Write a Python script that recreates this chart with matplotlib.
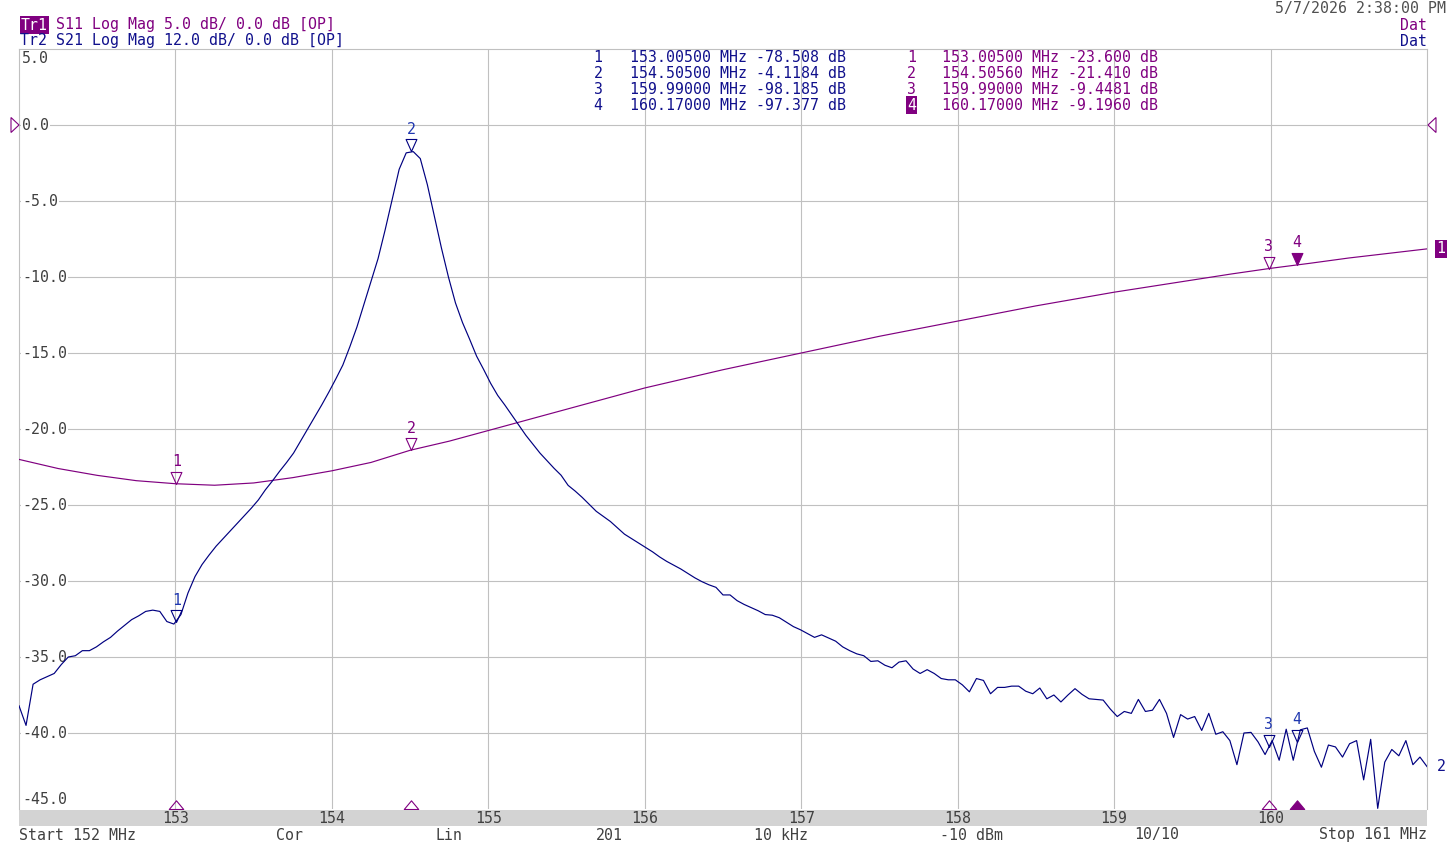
import numpy as np
import matplotlib
matplotlib.use("Agg")
import matplotlib.pyplot as plt
from matplotlib.path import Path
from matplotlib.patches import Polygon

# ---------------- data ----------------
start_mhz, stop_mhz, n_points = 152.0, 161.0, 201

# Tr2: S21 (dB), 12 dB/div, ref 0 dB
s21_db = [
    -91.7, -94.8, -88.3, -87.6, -87.1, -86.6, -85.2, -84.0, -83.8, -83.0,
    -83.0, -82.4, -81.6, -80.9, -79.9, -79.0, -78.1, -77.5, -76.8, -76.6,
    -76.8, -78.4, -78.8, -77.3, -73.9, -71.3, -69.4, -67.9, -66.5, -65.3,
    -64.1, -62.9, -61.7, -60.5, -59.2, -57.6, -56.2, -54.7, -53.3, -51.8,
    -49.9, -48.0, -46.1, -44.2, -42.2, -40.1, -37.9, -35.0, -31.9, -28.3,
    -24.7, -21.1, -16.6, -11.8, -7.0, -4.4, -4.2, -5.3, -9.4, -14.4,
    -19.4, -24.0, -28.1, -31.2, -33.8, -36.5, -38.6, -40.8, -42.7, -44.2,
    -45.8, -47.4, -49.0, -50.4, -51.8, -53.0, -54.2, -55.3, -56.9, -57.8,
    -58.8, -59.9, -61.0, -61.8, -62.6, -63.6, -64.6, -65.3, -66.0, -66.7,
    -67.4, -68.2, -68.9, -69.5, -70.1, -70.8, -71.5, -72.1, -72.6, -73.0,
    -74.2, -74.2, -75.1, -75.7, -76.2, -76.7, -77.3, -77.4, -77.8, -78.5,
    -79.2, -79.7, -80.3, -80.9, -80.5, -81.0, -81.5, -82.4, -83.0, -83.5,
    -83.8, -84.7, -84.6, -85.3, -85.7, -84.8, -84.6, -85.9, -86.6, -86.0,
    -86.6, -87.4, -87.6, -87.6, -88.4, -89.5, -87.4, -87.7, -89.8, -88.8,
    -88.8, -88.6, -88.6, -89.4, -89.8, -88.9, -90.6, -90.0, -91.1, -90.0,
    -89.0, -89.9, -90.6, -90.7, -90.8, -92.2, -93.4, -92.6, -92.9, -90.7,
    -92.6, -92.4, -90.7, -92.9, -96.7, -93.1, -93.8, -93.4, -95.6, -92.9,
    -96.2, -95.8, -97.2, -101.0, -96.0, -95.9, -97.4, -99.4, -97.2, -100.3,
    -95.4, -100.3, -95.5, -95.2, -98.9, -101.4, -97.9, -98.2, -99.8, -97.7,
    -97.2, -103.4, -97.0, -107.9, -100.6, -98.6, -99.6, -97.2, -101.0, -99.8, -101.3,
]

# Tr1: S11 (dB), 5 dB/div, ref 0 dB, read every 0.25 MHz
s11_freq = [152.0, 152.25, 152.5, 152.75, 153.0, 153.25, 153.5, 153.75, 154.0,
            154.25, 154.5, 154.75, 155.0, 155.25, 155.5, 155.75, 156.0, 156.25,
            156.5, 156.75, 157.0, 157.25, 157.5, 157.75, 158.0, 158.25, 158.5,
            158.75, 159.0, 159.25, 159.5, 159.75, 160.0, 160.25, 160.5, 160.75, 161.0]
s11_db = [-22.0, -22.6, -23.05, -23.4, -23.6, -23.7, -23.55, -23.2, -22.75,
          -22.2, -21.4, -20.8, -20.1, -19.4, -18.7, -18.0, -17.3, -16.7,
          -16.1, -15.55, -15.0, -14.45, -13.9, -13.4, -12.9, -12.4, -11.9,
          -11.45, -11.0, -10.6, -10.2, -9.8, -9.43, -9.1, -8.75, -8.45, -8.15]

marker_num = [1, 2, 3, 4]
s21_mk_freq = [153.00500, 154.50500, 159.99000, 160.17000]
s21_mk_db = [-78.508, -4.1184, -98.185, -97.377]
s11_mk_freq = [153.00500, 154.50560, 159.99000, 160.17000]
s11_mk_db = [-23.600, -21.410, -9.4481, -9.1960]
active_marker = 4

tr1_ref, tr1_scale = 0.0, 5.0
tr2_ref, tr2_scale = 0.0, 12.0
n_div_above, n_div_below = 1, 9

x_grid_ticks = [153, 154, 155, 156, 157, 158, 159, 160]
header_tr1 = "S11 Log Mag 5.0 dB/ 0.0 dB [OP]"
header_tr2 = "Tr2 S21 Log Mag 12.0 dB/ 0.0 dB [OP]"
timestamp = "5/7/2026 2:38:00 PM"
bottom_labels = ["Start 152 MHz", "Cor", "Lin", "201", "10 kHz", "-10 dBm", "10/10", "Stop 161 MHz"]

# ---------------- style ----------------
W, H, DPI = 1447, 844, 100
PURPLE = "#800080"
NAVY = "#000080"
NAVY_TXT = "#10108c"
GRAYTXT = "#404040"
GRID = "#c0c0c0"
FS = 10.7
plt.rcParams["font.family"] = ["DejaVu Sans Mono"]
plt.rcParams["font.size"] = FS

fig = plt.figure(figsize=(W / DPI, H / DPI), dpi=DPI)
fig.patch.set_facecolor("white")


def fx(x):
    return x / W


def fy(y):
    return 1 - y / H


L, R, T, B = 19, 1427, 49, 809
ax = fig.add_axes([fx(L), fy(B), (R - L) / W, (B - T) / H])
ax.set_xlim(start_mhz, stop_mhz)
ax.set_ylim(tr1_ref - n_div_below * tr1_scale, tr1_ref + n_div_above * tr1_scale)
ax.set_xticks(x_grid_ticks)
y_lines = [tr1_ref - k * tr1_scale for k in range(0, n_div_below)]
ax.set_yticks(y_lines)
ax.grid(True, color=GRID, lw=0.8)
ax.tick_params(length=0, labelleft=False, labelbottom=False)
for s in ["top", "left", "right"]:
    ax.spines[s].set_color(GRID)
    ax.spines[s].set_linewidth(0.8)
ax.spines["bottom"].set_visible(False)

ax2 = ax.twinx()
ax2.set_ylim(tr2_ref - n_div_below * tr2_scale, tr2_ref + n_div_above * tr2_scale)
ax2.axis("off")

# y labels
y_labels = [tr1_ref + k * tr1_scale for k in range(n_div_above, -n_div_below - 1, -1)]
top_v, bot_v = y_labels[0], y_labels[-1]
for v in y_labels:
    if v == top_v:
        va, dy = "top", -2
    elif v == bot_v:
        va, dy = "bottom", 2
    else:
        va, dy = "center", 0
    ax.annotate(f"{v:.1f}", xy=(0, v), xycoords=ax.get_yaxis_transform(),
                xytext=(3, dy), textcoords="offset pixels", ha="left", va=va,
                color=GRAYTXT, fontsize=FS, annotation_clip=False,
                bbox=dict(boxstyle="square,pad=0.08", fc="white", ec="none"), zorder=3)

# traces
freq = np.linspace(start_mhz, stop_mhz, n_points)
ax.plot(s11_freq, s11_db, color=PURPLE, lw=0.85, zorder=4)
ax2.plot(freq, s21_db, color=NAVY, lw=0.85, zorder=4)

# markers
tri_down = Path([(0, 0), (-0.45, 1), (0.45, 1), (0, 0)],
                [Path.MOVETO, Path.LINETO, Path.LINETO, Path.CLOSEPOLY])
tri_up = Path([(-1, 0), (1, 0), (0, 1.2), (-1, 0)],
              [Path.MOVETO, Path.LINETO, Path.LINETO, Path.CLOSEPOLY])

for n, f, v in zip(marker_num, s21_mk_freq, s21_mk_db):
    ax2.plot([f], [v], marker=tri_down, ms=17.3, mfc="none", mec=NAVY, mew=0.8,
             ls="none", clip_on=False, zorder=6)
    ax2.annotate(str(n), xy=(f, v), xytext=(0, 22), textcoords="offset pixels",
                 ha="center", va="center", color="#2038b0", fontsize=FS, zorder=6)

for n, f, v in zip(marker_num, s11_mk_freq, s11_mk_db):
    filled = (n == active_marker)
    ax.plot([f], [v], marker=tri_down, ms=17.3, mfc=PURPLE if filled else "none",
            mec=PURPLE, mew=0.8, ls="none", clip_on=False, zorder=6)
    ax.annotate(str(n), xy=(f, v), xytext=(0, 22), textcoords="offset pixels",
                ha="center", va="center", color=PURPLE, fontsize=FS, zorder=6)
    ax.plot([f], [0], marker=tri_up, ms=12.5, mfc=PURPLE if filled else "none",
            mec=PURPLE, mew=0.8, ls="none", clip_on=False, zorder=6,
            transform=ax.get_xaxis_transform())

# trace end labels
ax.annotate("1", xy=(stop_mhz, s11_db[-1]), xytext=(14, 0), textcoords="offset pixels",
            ha="center", va="center", color="white", fontsize=FS, annotation_clip=False,
            bbox=dict(boxstyle="square,pad=0.1", fc=PURPLE, ec="none"))
ax2.annotate("2", xy=(stop_mhz, s21_db[-1]), xytext=(14, 0), textcoords="offset pixels",
             ha="center", va="center", color=NAVY_TXT, fontsize=FS, annotation_clip=False)

# reference position triangles
y_ref = 125
fig.patches.append(Polygon([(fx(11), fy(y_ref - 7.5)), (fx(11), fy(y_ref + 7.5)), (fx(19), fy(y_ref))],
                           closed=True, fill=False, ec=PURPLE, lw=0.8, transform=fig.transFigure))
fig.patches.append(Polygon([(fx(1436), fy(y_ref - 7.5)), (fx(1436), fy(y_ref + 7.5)), (fx(1428), fy(y_ref))],
                           closed=True, fill=False, ec=PURPLE, lw=0.8, transform=fig.transFigure))

# bottom band with frequency labels
bax = fig.add_axes([fx(L), fy(826), (R - L) / W, 16 / H])
bax.set_facecolor("#d3d3d3")
bax.set_xlim(start_mhz, stop_mhz)
bax.set_ylim(0, 1)
bax.set_xticks([])
bax.set_yticks([])
for s in bax.spines.values():
    s.set_visible(False)
for t in x_grid_ticks:
    bax.text(t, 0.45, str(t), ha="center", va="center", color=GRAYTXT, fontsize=FS)

# bottom status row
bottom_x = [19, 276, 436, 596, 754, 940, 1134, 1427]
for i, (lab, xp) in enumerate(zip(bottom_labels, bottom_x)):
    ha = "right" if i == len(bottom_labels) - 1 else "left"
    fig.text(fx(xp), fy(835), lab, ha=ha, va="center", color=GRAYTXT, fontsize=FS)

# header
fig.text(fx(21), fy(25), "Tr1", ha="left", va="center", color="white", fontsize=FS,
         bbox=dict(boxstyle="square,pad=0.08", fc=PURPLE, ec="none"))
fig.text(fx(56), fy(25), header_tr1, ha="left", va="center", color=PURPLE, fontsize=FS)
fig.text(fx(20), fy(41), header_tr2, ha="left", va="center", color=NAVY_TXT, fontsize=FS)
fig.text(fx(1446), fy(8), timestamp, ha="right", va="center", color="#505050", fontsize=FS)
fig.text(fx(1427), fy(25), "Dat", ha="right", va="center", color=PURPLE, fontsize=FS)
fig.text(fx(1427), fy(41), "Dat", ha="right", va="center", color=NAVY_TXT, fontsize=FS)


# marker tables
def fmt5(v):
    digits = len(str(int(abs(v))))
    return f"{v:.{5 - digits}f}"


row_y = [57, 73, 89, 105]
for n, f, v, yy in zip(marker_num, s21_mk_freq, s21_mk_db, row_y):
    fig.text(fx(594), fy(yy), f"{n}   {f:.5f} MHz {fmt5(v)} dB", ha="left", va="center",
             color=NAVY_TXT, fontsize=FS)
for n, f, v, yy in zip(marker_num, s11_mk_freq, s11_mk_db, row_y):
    if n == active_marker:
        fig.text(fx(907), fy(yy), str(n), ha="left", va="center", color="white", fontsize=FS,
                 bbox=dict(boxstyle="square,pad=0.08", fc=PURPLE, ec="none"))
    else:
        fig.text(fx(907), fy(yy), str(n), ha="left", va="center", color=PURPLE, fontsize=FS)
    fig.text(fx(942), fy(yy), f"{f:.5f} MHz {fmt5(v)} dB", ha="left", va="center",
             color=PURPLE, fontsize=FS)

fig.savefig("out.png", dpi=DPI)
